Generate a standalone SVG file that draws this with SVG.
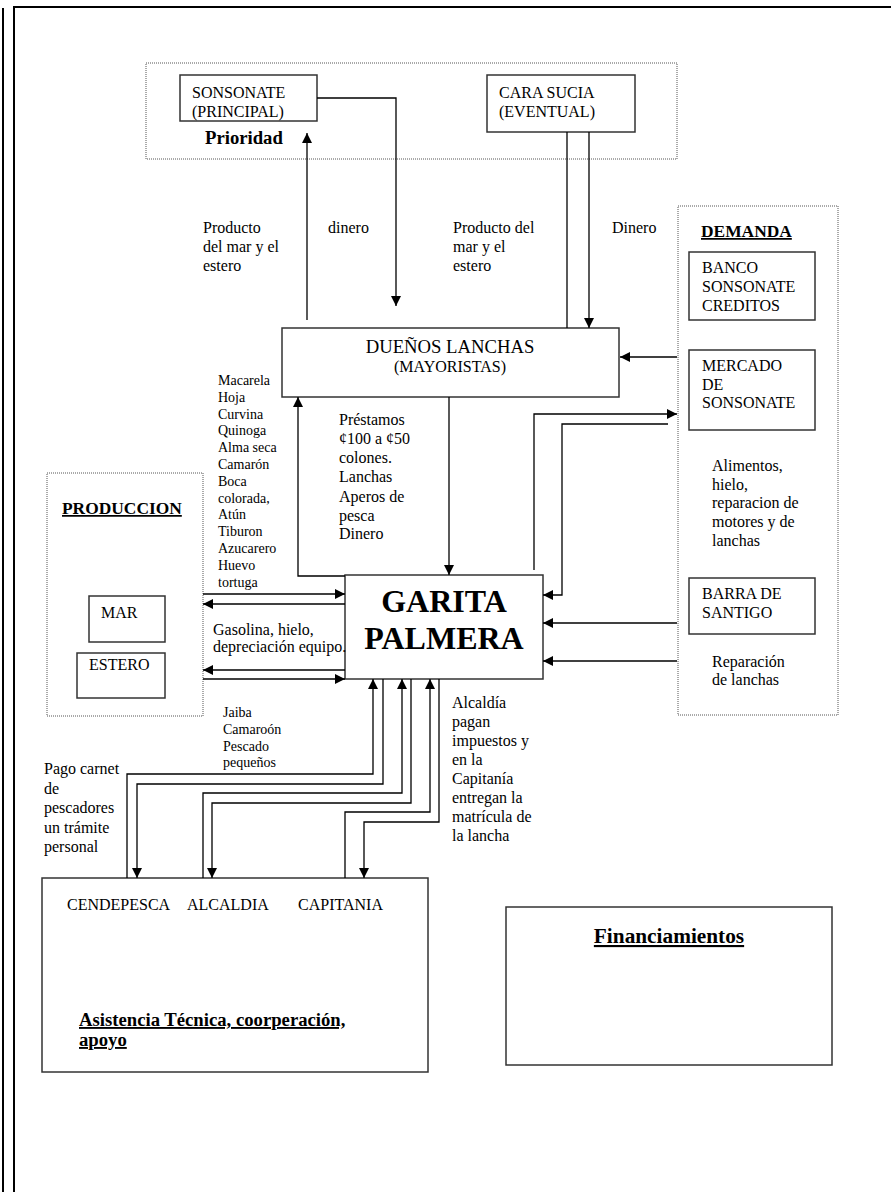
<svg xmlns="http://www.w3.org/2000/svg" width="891" height="1192" viewBox="0 0 891 1192">
<defs>
<marker id="ah" viewBox="0 0 10 10" refX="10" refY="5" markerWidth="10" markerHeight="10" markerUnits="userSpaceOnUse" orient="auto">
<path d="M0,0 L10,5 L0,10 z" fill="#000"/>
</marker>
<style>
text{font-family:"Liberation Serif","Times New Roman",serif;fill:#000;}
.t16{font-size:16px;}
.t14{font-size:14px;}
.b{font-weight:bold;}
.u{text-decoration:underline;}
.box{fill:#fff;stroke:#333;stroke-width:1.5;}
.dot{fill:none;stroke:#555;stroke-width:1;stroke-dasharray:1,1;}
.c{fill:none;stroke:#000;stroke-width:1.3;}
.a{fill:none;stroke:#000;stroke-width:1.3;marker-end:url(#ah);}
.frame{fill:none;stroke:#000;stroke-width:2;}
</style>
</defs>
<rect width="891" height="1192" fill="#fff"/>
<g id="frame">
<line class="frame" x1="3" y1="8" x2="3" y2="1192"/>
<line class="frame" x1="14" y1="7" x2="14" y2="1192"/>
<line class="frame" x1="13" y1="7" x2="891" y2="7"/>
</g>

<g id="prioridad">
<rect class="dot" x="146" y="63" width="531" height="96"/>
<text class="b" x="205" y="144" style="font-size:18.7px">Prioridad</text>
</g>
<g id="sonsonate">
<rect class="box" x="180" y="75" width="137" height="46"/>
<text class="t16" x="192" y="98">SONSONATE</text>
<text class="t16" x="192" y="117">(PRINCIPAL)</text>
</g>
<g id="carasucia">
<rect class="box" x="487" y="75" width="148" height="57"/>
<text class="t16" x="499" y="98">CARA SUCIA</text>
<text class="t16" x="499" y="117">(EVENTUAL)</text>
</g>

<g id="duenos">
<rect class="box" x="282" y="328" width="337" height="69"/>
<text x="450" y="353" text-anchor="middle" style="font-size:18.7px">DUEÑOS LANCHAS</text>
<text class="t16" x="450" y="372" text-anchor="middle">(MAYORISTAS)</text>
</g>

<g id="garita">
<rect class="box" x="345" y="575" width="198" height="104"/>
<text class="b" x="444" y="612" text-anchor="middle" style="font-size:32px">GARITA</text>
<text class="b" x="444" y="649" text-anchor="middle" style="font-size:32px">PALMERA</text>
</g>

<g id="produccion">
<rect class="dot" x="47" y="473" width="156" height="243"/>
<text class="b u" x="62" y="514" style="font-size:17.4px">PRODUCCION</text>
</g>
<g id="mar">
<rect class="box" x="89" y="596" width="76" height="46"/>
<text class="t16" x="101" y="618">MAR</text>
</g>
<g id="estero">
<rect class="box" x="77" y="653" width="88" height="45"/>
<text class="t16" x="89" y="670">ESTERO</text>
</g>

<g id="demanda">
<rect class="dot" x="678" y="206" width="160" height="509"/>
<text class="b u" x="701" y="237" style="font-size:17.4px">DEMANDA</text>
</g>
<g id="banco">
<rect class="box" x="689" y="252" width="126" height="68"/>
<text class="t16" x="702" y="273">BANCO</text>
<text class="t16" x="702" y="292">SONSONATE</text>
<text class="t16" x="702" y="311">CREDITOS</text>
</g>
<g id="mercado">
<rect class="box" x="689" y="350" width="126" height="80"/>
<text class="t16" x="702" y="371">MERCADO</text>
<text class="t16" x="702" y="390">DE</text>
<text class="t16" x="702" y="408">SONSONATE</text>
</g>
<g id="barra">
<rect class="box" x="689" y="578" width="126" height="56"/>
<text class="t16" x="702" y="599">BARRA DE</text>
<text class="t16" x="702" y="618">SANTIGO</text>
</g>

<g id="asistencia">
<rect class="box" x="42" y="878" width="386" height="194"/>
<text class="t16" x="67" y="910">CENDEPESCA</text>
<text class="t16" x="187" y="910">ALCALDIA</text>
<text class="t16" x="298" y="910">CAPITANIA</text>
<text class="b u" x="79" y="1026" style="font-size:18.7px">Asistencia Técnica, coorperación,</text>
<text class="b u" x="79" y="1046" style="font-size:18.7px">apoyo</text>
</g>

<g id="financiamientos">
<rect class="box" x="506" y="907" width="326" height="158"/>
<text class="b u" x="669" y="943" text-anchor="middle" style="font-size:21.3px">Financiamientos</text>
</g>

<g id="connectors">
<path class="a" d="M307,320 V133"/>
<path class="a" d="M317,98 H396 V306"/>
<path class="c" d="M567,132 V328"/>
<path class="a" d="M589,132 V328"/>
<path class="a" d="M677,357 H620"/>
<path class="a" d="M449,397 V575"/>
<path class="a" d="M345,576 H298 V397"/>
<path class="a" d="M203,594 H345"/>
<path class="a" d="M345,604 H203"/>
<path class="a" d="M345,670 H203"/>
<path class="a" d="M203,679 H345"/>
<path class="a" d="M534,570 V414 H677"/>
<path class="a" d="M668,424 H562 V595 H543"/>
<path class="a" d="M677,623 H543"/>
<path class="a" d="M677,661 H543"/>
<path class="a" d="M127,878 V774 H373 V679"/>
<path class="a" d="M383,679 V784 H137 V878"/>
<path class="a" d="M203,878 V793 H402 V679"/>
<path class="a" d="M411,679 V803 H212 V878"/>
<path class="a" d="M345,878 V812 H430 V679"/>
<path class="a" d="M439,679 V822 H364 V878"/>
</g>

<g id="labels">
<text class="t16" x="203" y="233">Producto</text>
<text class="t16" x="203" y="252">del mar y el</text>
<text class="t16" x="203" y="271">estero</text>
<text class="t16" x="328" y="233">dinero</text>
<text class="t16" x="453" y="233">Producto del</text>
<text class="t16" x="453" y="252">mar y el</text>
<text class="t16" x="453" y="271">estero</text>
<text class="t16" x="612" y="233">Dinero</text>

<text class="t14" x="218" y="385">Macarela</text>
<text class="t14" x="218" y="402">Hoja</text>
<text class="t14" x="218" y="419">Curvina</text>
<text class="t14" x="218" y="435">Quinoga</text>
<text class="t14" x="218" y="452">Alma seca</text>
<text class="t14" x="218" y="469">Camarón</text>
<text class="t14" x="218" y="486">Boca</text>
<text class="t14" x="218" y="503">colorada,</text>
<text class="t14" x="218" y="519">Atún</text>
<text class="t14" x="218" y="536">Tiburon</text>
<text class="t14" x="218" y="553">Azucarero</text>
<text class="t14" x="218" y="570">Huevo</text>
<text class="t14" x="218" y="587">tortuga</text>

<text class="t16" x="339" y="425">Préstamos</text>
<text class="t16" x="339" y="444">¢100 a ¢50</text>
<text class="t16" x="339" y="463">colones.</text>
<text class="t16" x="339" y="482">Lanchas</text>
<text class="t16" x="339" y="502">Aperos de</text>
<text class="t16" x="339" y="521">pesca</text>
<text class="t16" x="339" y="539">Dinero</text>

<text class="t16" x="213" y="635">Gasolina, hielo,</text>
<text class="t16" x="213" y="652">depreciación equipo.</text>

<text class="t16" x="712" y="471">Alimentos,</text>
<text class="t16" x="712" y="490">hielo,</text>
<text class="t16" x="712" y="508">reparacion de</text>
<text class="t16" x="712" y="527">motores y de</text>
<text class="t16" x="712" y="546">lanchas</text>
<text class="t16" x="712" y="667">Reparación</text>
<text class="t16" x="712" y="685">de lanchas</text>

<text class="t14" x="223" y="717">Jaiba</text>
<text class="t14" x="223" y="734">Camaroón</text>
<text class="t14" x="223" y="751">Pescado</text>
<text class="t14" x="223" y="767">pequeños</text>

<text class="t16" x="44" y="774">Pago carnet</text>
<text class="t16" x="44" y="794">de</text>
<text class="t16" x="44" y="813">pescadores</text>
<text class="t16" x="44" y="833">un trámite</text>
<text class="t16" x="44" y="852">personal</text>

<text class="t16" x="452" y="708">Alcaldía</text>
<text class="t16" x="452" y="727">pagan</text>
<text class="t16" x="452" y="746">impuestos y</text>
<text class="t16" x="452" y="765">en la</text>
<text class="t16" x="452" y="784">Capitanía</text>
<text class="t16" x="452" y="803">entregan  la</text>
<text class="t16" x="452" y="822">matrícula de</text>
<text class="t16" x="452" y="841">la lancha</text>
</g>
</svg>
